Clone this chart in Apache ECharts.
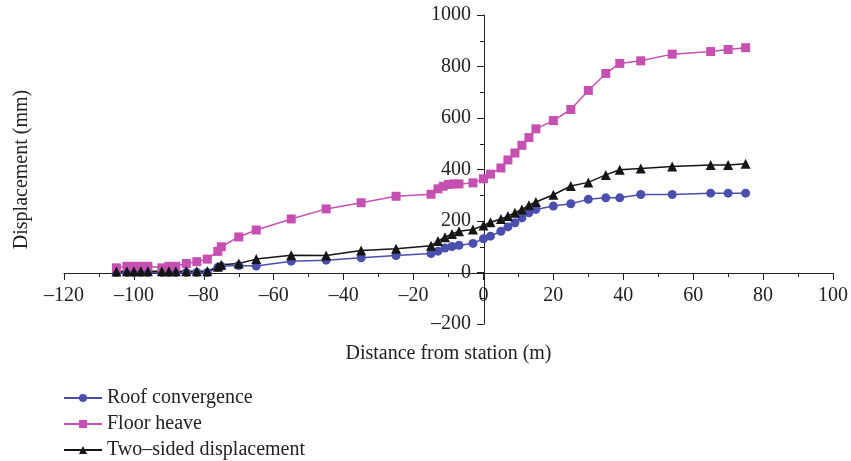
<!DOCTYPE html>
<html>
<head>
<meta charset="utf-8">
<script src="https://cdn.jsdelivr.net/npm/echarts@6/dist/echarts.min.js"></script>
<style>html,body{margin:0;padding:0;background:#fff}#c{width:851px;height:461px}</style>
</head>
<body>
<div id="c"></div>
<script>
const seriesNames = ['Roof convergence', 'Floor heave', 'Two\u2013sided displacement'];
const xTitle = 'Distance from station (m)';
const yTitle = 'Displacement (mm)';

const sharedX = [-105,-102,-100,-98,-96,-92,-90,-88,-85,-82,-79,-76,-75,-70,-65,-55,-45,-35,-25,-15,-13,-11,-9,-7,-3,0,2,5,7,9,11,13,15,20,25,30,35,39,45,54,65,70,75];
const roofY = [0,0,0,0,0,0,0,0,0,0,0,20,24,27,25,44,48,57,66,74,83,95,101,106,113,131,141,160,177,193,212,232,245,258,267,284,290,290,303,303,308,308,308];
const twoSidedY = [4,5,5,5,5,5,5,5,5,5,5,22,30,35,52,67,66,85,92,104,122,137,150,160,167,183,195,208,219,232,245,261,274,302,336,350,379,399,404,412,417,417,422];
const floorX = [-105,-102,-100,-98,-96,-92,-90,-88,-85,-82,-79,-76,-75,-70,-65,-55,-45,-35,-25,-15,-13,-11.5,-10,-8.5,-7,-3,0,2,5,7,9,11,13,15,20,25,30,35,39,45,54,65,70,75];
const floorY = [18,24,24,24,24,18,24,24,35,42,52,82,100,138,165,208,247,271,296,304,325,335,342,344,344,348,364,382,406,437,464,494,524,558,590,633,707,773,812,822,848,858,866,873];

const pair = (xs, ys) => xs.map((x, i) => [x, ys[i]]);
const FONT = 'Liberation Serif';
const FS = 20;
const TXT = '#222';
const dash = v => String(v).replace('-', '\u2013');

const GL = 64, GR = 17, GT = 15, GB = 137;

const chart = echarts.init(document.getElementById('c'));
chart.setOption({
  animation: false,
  grid: {left: GL, right: GR, top: GT, bottom: GB},
  legend: {
    orient: 'vertical', left: 63, top: 388, padding: 0,
    itemWidth: 38, itemHeight: 10, itemGap: 6,
    data: seriesNames,
    textStyle: {fontFamily: FONT, fontSize: FS, color: TXT, lineHeight: 19}
  },
  xAxis: {
    type: 'value', min: -120, max: 100, interval: 20,
    offset: -51,
    name: xTitle, nameLocation: 'middle', nameGap: 71,
    nameTextStyle: {fontFamily: FONT, fontSize: FS, color: TXT},
    axisLine: {onZero: false, lineStyle: {color: TXT, width: 1}},
    axisTick: {show: true, length: 7, lineStyle: {color: TXT}},
    minorTick: {show: true, splitNumber: 2, length: 4, lineStyle: {color: TXT}},
    axisLabel: {fontFamily: FONT, fontSize: FS, color: TXT, margin: 13, formatter: dash},
    splitLine: {show: false}
  },
  yAxis: [{
    type: 'value', min: -200, max: 1000, interval: 200,
    position: 'left', offset: -420,
    axisLine: {show: true, onZero: false, lineStyle: {color: TXT, width: 1}},
    axisTick: {show: true, length: 7, lineStyle: {color: TXT}},
    minorTick: {show: true, splitNumber: 2, length: 4, lineStyle: {color: TXT}},
    axisLabel: {fontFamily: FONT, fontSize: FS, color: TXT, margin: 13, formatter: dash},
    splitLine: {show: false}
  }, {
    type: 'value', min: -200, max: 1000, interval: 200, position: 'left',
    name: yTitle, nameLocation: 'middle', nameGap: 32,
    nameTextStyle: {fontFamily: FONT, fontSize: FS, color: TXT},
    axisLine: {show: false, onZero: false}, axisTick: {show: false},
    axisLabel: {show: false}, splitLine: {show: false}
  }],
  series: [{
    name: seriesNames[0], type: 'line', data: pair(sharedX, roofY),
    symbol: 'circle', symbolSize: 9,
    itemStyle: {color: '#4a4fae'}, lineStyle: {color: '#4a4fae', width: 1.5}
  }, {
    name: seriesNames[1], type: 'line', data: pair(floorX, floorY),
    symbol: 'rect', symbolSize: 9,
    itemStyle: {color: '#c64fb2'}, lineStyle: {color: '#c64fb2', width: 1.5}
  }, {
    name: seriesNames[2], type: 'line', data: pair(sharedX, twoSidedY),
    symbol: 'triangle', symbolSize: 10,
    itemStyle: {color: '#151515'}, lineStyle: {color: '#151515', width: 1.5}
  }]
});
</script>
</body>
</html>
